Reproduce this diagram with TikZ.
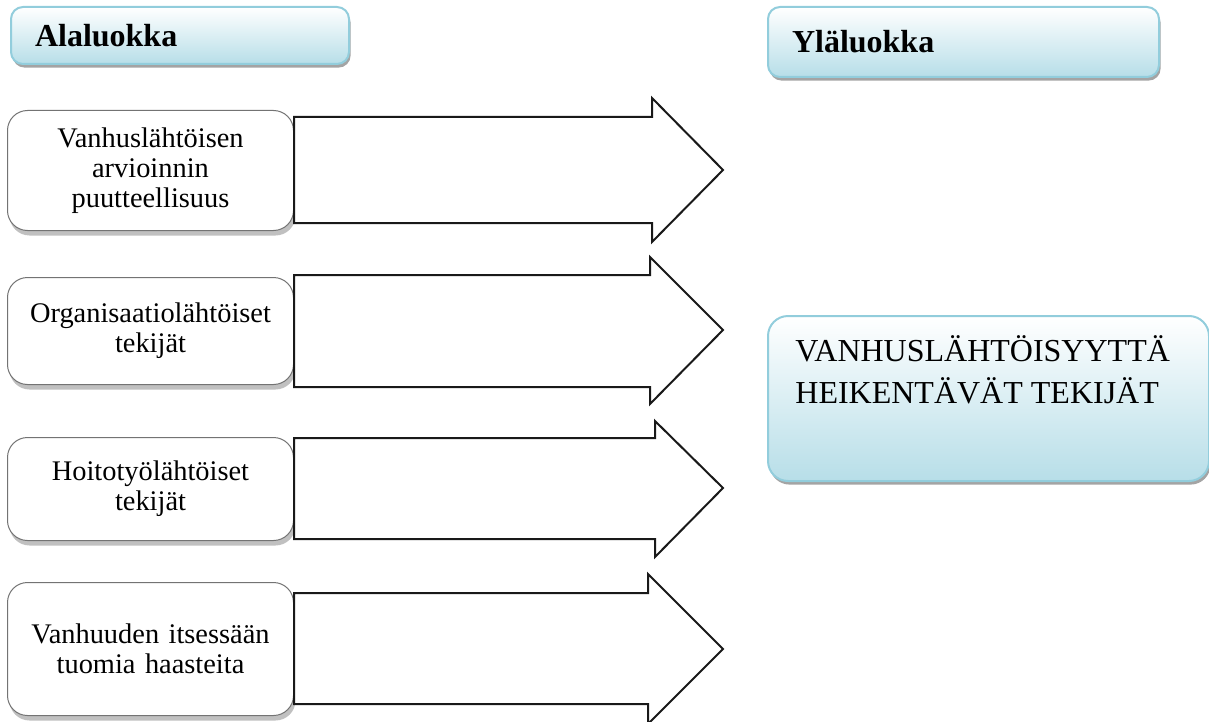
\documentclass[tikz,border=0pt]{standalone}
\usepackage{fontspec}
\setmainfont{Liberation Serif}
\usetikzlibrary{shadows}
\definecolor{hdrblue}{RGB}{183,222,232}
\definecolor{hdredge}{RGB}{146,205,220}
\begin{document}
\begin{tikzpicture}[x=0.5pt,y=-0.5pt,
    bluebox/.style={draw=hdredge, line width=1pt, top color=white, bottom color=hdrblue,
        drop shadow={shadow xshift=0.8pt, shadow yshift=-1.8pt, fill=black!55, opacity=0.65}, anchor=north west},
    hdr/.style={bluebox, rounded corners=6pt, inner xsep=12pt, align=left, font=\fontsize{16}{19}\selectfont\bfseries},
    subbox/.style={draw=black!55, line width=0.5pt, fill=white, rounded corners=10pt, anchor=north west,
        drop shadow={shadow xshift=1pt, shadow yshift=-2.5pt, fill=black!45, opacity=0.55},
        minimum width=143pt, text width=135pt, align=center, font=\fontsize{14.2}{15}\selectfont},
    bigarrow/.style={draw=black!90, line width=1pt, fill=white, line join=miter}]
  \useasboundingbox (0,0) rectangle (1209,722);
  \node[hdr, text width=145pt, minimum height=28.5pt] (alal) at (10,6) {Alaluokka};
  \node[hdr, text width=171.5pt, minimum height=35pt] (ylal) at (767,6) {Yläluokka};
  \node[subbox, minimum height=60pt] (b1) at (7,110) {Vanhuslähtöisen\\arvioinnin\\puutteellisuus};
  \node[subbox, minimum height=53.5pt] (b2) at (7,277) {Organisaatiolähtöiset\\tekijät};
  \node[subbox, minimum height=51.5pt] (b3) at (7,437) {Hoitotyölähtöiset\\tekijät};
  \node[subbox, minimum height=66.5pt] (b4) at (7,582) {Vanhuuden itsessään\\tuomia haasteita};
  \foreach \n/\t/\b/\hx/\ht/\hb/\ty in {1/117/223/652/98/242/170, 2/275/387/650/257/404/330,
      3/438/539/655/421/557/488, 4/593/704/648/574/724/649}
    \draw[bigarrow] (b\n.east |- 0,\t) -- (\hx,\t) -- (\hx,\ht) -- (723,\ty) -- (\hx,\hb)
      -- (\hx,\b) -- (b\n.east |- 0,\b) -- cycle;
  \node[bluebox, rounded corners=10pt, minimum width=220.5pt, minimum height=82.5pt] (yl) at (767,315) {};
  \node[anchor=north west, inner sep=0pt, align=left, font=\fontsize{16}{21}\selectfont] (ylt)
    at ([xshift=14pt,yshift=-10pt]yl.north west) {VANHUSLÄHTÖISYYTTÄ\\HEIKENTÄVÄT TEKIJÄT};
\end{tikzpicture}
\end{document}
